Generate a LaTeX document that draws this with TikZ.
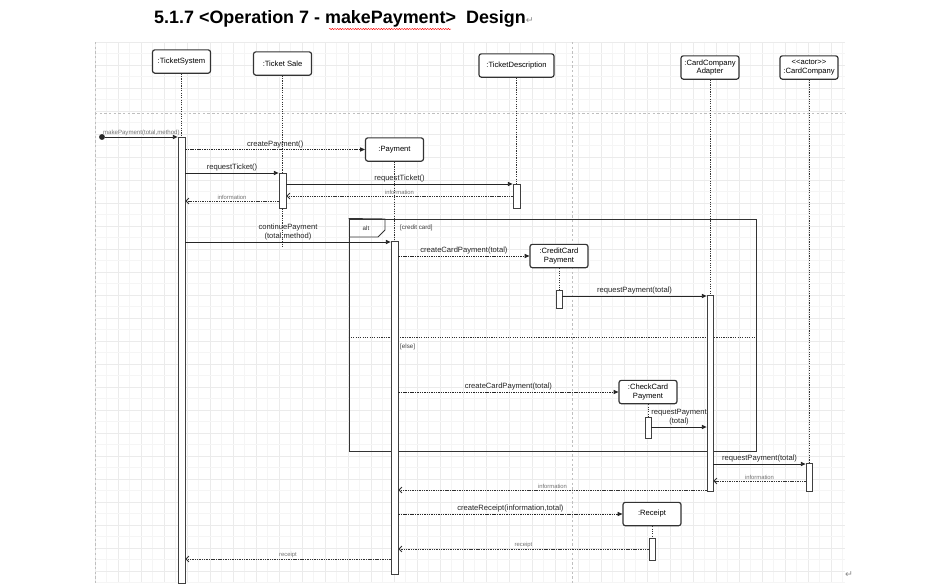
\documentclass[tikz,border=0pt]{standalone}
\usepackage{fontspec}
\setmainfont{Liberation Sans}
\newfontfamily\markfont{DejaVu Sans}
\usetikzlibrary{arrows.meta,fit,decorations.pathmorphing}

\begin{document}
\begin{tikzpicture}[x=0.03cm, y=-0.03cm,
  obj/.style={draw=black!80, line width=1pt, rounded corners=2pt, fill=white,
              minimum width=1.74cm, minimum height=0.7cm, align=center,
              font=\fontsize{6.5}{7.6}\selectfont, inner sep=1pt},
  bar/.style={draw=black!75, fill=white, inner sep=0pt, line width=0.7pt},
  life/.style={draw=black!80, line width=0.8pt, dash pattern=on 1pt off 1pt},
  call/.style={draw=black!85, line width=0.7pt, -{Triangle[length=4pt,width=3.5pt]}},
  create/.style={call, dash pattern=on 1.2pt off 0.8pt},
  ret/.style={draw=black!80, line width=0.7pt, dash pattern=on 1.2pt off 0.8pt,
              -{Straight Barb[length=2.5pt,width=5pt]}},
  lbl/.style={font=\fontsize{6.5}{7.6}\selectfont, inner sep=1pt, text=black!85},
  rlbl/.style={font=\fontsize{5}{5.5}\selectfont, inner sep=1pt, text=black!55},
  guard/.style={font=\fontsize{5.3}{6}\selectfont, inner sep=0pt, text=black!75, anchor=west},
  frm/.style={draw=black!80, line width=0.8pt},
  gridmin/.style={draw=black!4, line width=0.3pt},
  gridmaj/.style={draw=black!8, line width=0.4pt},
  pgbrk/.style={draw=black!25, line width=0.5pt, dash pattern=on 2pt off 2pt},
  dot/.style={circle, fill=black!85, inner sep=0pt, minimum size=5pt}
]
\useasboundingbox (0,0) rectangle (933,583);
\fill[white] (0,0) rectangle (933,583);

\foreach \i in {0,...,32} {
  \draw[gridmin] (106.5+23*\i,42) -- (106.5+23*\i,583);
  \draw[gridmaj] (95+23*\i,42) -- (95+23*\i,583);
}
\foreach \j in {0,...,23} {
  \draw[gridmin] (95,53.5+23*\j) -- (845,53.5+23*\j);
  \draw[gridmaj] (95,42+23*\j) -- (845,42+23*\j);
}
\draw[pgbrk] (95,42) -- (95,583);
\draw[pgbrk] (95,113) -- (845,113);
\draw[pgbrk] (572,42) -- (572,583);

\node[anchor=west, inner sep=0pt, font=\fontsize{15.3}{18}\selectfont\bfseries] (title) at (154,19)
  {5.1.7 <Operation 7 - makePayment>\ \ Design{\markfont\mdseries\fontsize{8}{8}\selectfont\color{black!45}↵}};
\draw[red, line width=0.4pt, decorate, decoration={snake, amplitude=0.5pt, segment length=2.2pt}]
  (329,29) -- (451,29);
\node[font=\markfont\fontsize{8}{8}\selectfont, text=black!45] (endmark) at (849,575) {↵};

% alt frame
\node[frm, inner sep=0pt, fit={(349,219) (756,451)}] (alt) {};
\draw[frm] (alt.north west) -- (385,219) -- (385,230) -- (378,237) -- (349,237);
\node[font=\fontsize{5.3}{6}\selectfont, text=black!80] (altlbl) at (366,228) {alt};
\draw[frm, dash pattern=on 1pt off 1pt] (alt.west |- 0,337) -- (alt.east |- 0,337);
\node[guard] (g1) at (400,228) {[credit card]};
\node[guard] (g2) at (400,347) {[else]};

% activations
\node[bar, fit={(178,137) (185,583)}] (actTS) {};
\node[bar, fit={(279,173) (286,208)}] (actSale) {};
\node[bar, fit={(513,184) (520,208)}] (actTDesc) {};
\node[bar, fit={(391,241) (398,574)}] (actPay) {};
\node[bar, fit={(707,295) (713,491)}] (actAdapter) {};
\node[bar, fit={(806,463) (812,491)}] (actCardCo) {};
\node[bar, fit={(556,290) (562,308)}] (actCredit) {};
\node[bar, fit={(645,417) (651,438)}] (actCheck) {};
\node[bar, fit={(649,538) (655,560)}] (actReceipt) {};

% objects
\node[obj] (ts)      at (181.5,61.5) {:TicketSystem};
\node[obj] (sale)    at (282.5,63.5) {:Ticket Sale};
\node[obj, minimum width=2.25cm] (tdesc) at (516.5,65.5) {:TicketDescription};
\node[obj] (pay)     at (394.5,149.5) {:Payment};
\node[obj] (adapter) at (710,67.5) {:CardCompany\\Adapter};
\node[obj] (cardco)  at (809,67.5) {<{}<actor>{}>\\:CardCompany};
\node[obj] (credit)  at (559,256) {:CreditCard\\Payment};
\node[obj] (check)   at (648,392) {:CheckCard\\Payment};
\node[obj] (receipt) at (652,514) {:Receipt};
\coordinate (saleEnd) at (282.5,248);

\draw[life] (ts) -- (actTS);
\draw[life] (sale) -- (actSale);
\draw[life] (actSale) -- (saleEnd);
\draw[life] (tdesc) -- (actTDesc);
\draw[life] (pay) -- (actPay);
\draw[life] (adapter) -- (actAdapter);
\draw[life] (cardco) -- (actCardCo);
\draw[life] (credit) -- (actCredit);
\draw[life] (check) -- (actCheck);
\draw[life] (receipt) -- (actReceipt);

% messages
\node[dot] (start) at (102,137) {};
\draw[call] (start) -- (actTS.west |- 0,137)
  node[midway, above, rlbl, font=\fontsize{5.2}{6}\selectfont] {makePayment(total,method)};
\draw[create] (actTS.east |- 0,149.5) -- (pay.west) node[midway, above, lbl] {createPayment()};
\draw[call] (actTS.east |- 0,173) -- (actSale.west |- 0,173) node[midway, above, lbl] {requestTicket()};
\draw[call] (actSale.east |- 0,184) -- (actTDesc.west |- 0,184) node[midway, above, lbl] {requestTicket()};
\draw[ret] (actTDesc.west |- 0,196) -- (actSale.east |- 0,196) node[midway, above, rlbl] {information};
\draw[ret] (actSale.west |- 0,201) -- (actTS.east |- 0,201) node[midway, above, rlbl] {information};
\draw[call] (actTS.east |- 0,242) -- (actPay.west |- 0,242)
  node[midway, above, lbl, align=center] {continuePayment\\(total,method)};
\draw[create] (actPay.east |- 0,256) -- (credit.west) node[midway, above, lbl] {createCardPayment(total)};
\draw[call] (actCredit.east |- 0,296) -- (actAdapter.west |- 0,296) node[midway, above, lbl] {requestPayment(total)};
\draw[create] (actPay.east |- 0,392) -- (check.west) node[midway, above, lbl] {createCardPayment(total)};
\draw[call] (actCheck.east |- 0,427) -- (actAdapter.west |- 0,427)
  node[midway, above, lbl, align=center] {requestPayment\\(total)};
\draw[call] (actAdapter.east |- 0,464) -- (actCardCo.west |- 0,464) node[midway, above, lbl] {requestPayment(total)};
\draw[ret] (actCardCo.west |- 0,481) -- (actAdapter.east |- 0,481) node[midway, above, rlbl] {information};
\draw[ret] (actAdapter.west |- 0,490) -- (actPay.east |- 0,490) node[midway, above, rlbl] {information};
\draw[create] (actPay.east |- 0,514) -- (receipt.west) node[midway, above, lbl] {createReceipt(information,total)};
\draw[ret] (actReceipt.west |- 0,549) -- (actPay.east |- 0,549) node[midway, above, rlbl] {receipt};
\draw[ret] (actPay.west |- 0,559) -- (actTS.east |- 0,559) node[midway, above, rlbl] {receipt};
\end{tikzpicture}
\end{document}
